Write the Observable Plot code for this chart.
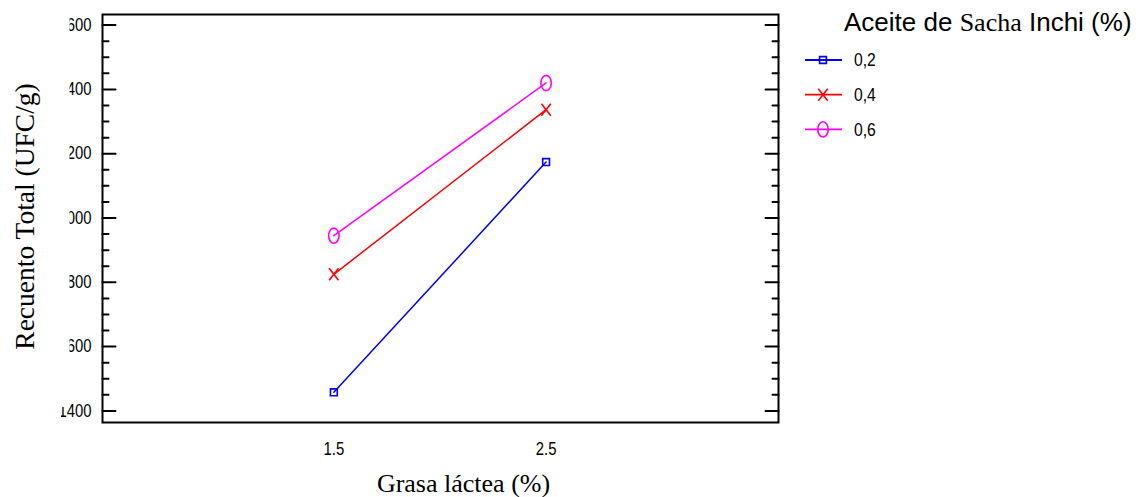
<!DOCTYPE html>
<html><head><meta charset="utf-8">
<script src="https://cdn.jsdelivr.net/npm/d3@7"></script>
<script src="https://cdn.jsdelivr.net/npm/@observablehq/plot@0.6"></script>
<style>
body{margin:0;background:#fff}
#chart{position:relative;width:1141px;height:497px}
</style>
</head><body><div id="chart"></div>
<script>
// ---- data ----
const grasa = [1.5, 2.5];                       // Grasa láctea (%)
const aceite = ["0,2", "0,4", "0,6"];            // Aceite de Sacha Inchi (%)
const rt02 = [1458, 2174];                       // Recuento Total, 0,2
const rt04 = [1825, 2337];                       // Recuento Total, 0,4
const rt06 = [1945, 2420];                       // Recuento Total, 0,6
const yTicks = [1400, 1600, 1800, 2000, 2200, 2400, 2600];
const yMinor = [1450, 1500, 1550, 1650, 1700, 1750, 1850, 1900, 1950, 2050, 2100, 2150,
                2250, 2300, 2350, 2450, 2500, 2550];
const colors = ["#0000ff", "#ff0000", "#ff00ff"];

const series = [rt02, rt04, rt06];
const rows = aceite.flatMap((a, i) => grasa.map((g, j) => ({grasa: g, rt: series[i][j], aceite: a})));

// ---- symbols ----
const symSquare = {draw(c) { const s = 3.4; c.moveTo(-s, -s); c.lineTo(s, -s); c.lineTo(s, s); c.lineTo(-s, s); c.closePath(); }};
const symTimes = {draw(c) { const sx = 4.7, sy = 6; c.moveTo(-sx, -sy); c.lineTo(sx, sy); c.moveTo(sx, -sy); c.lineTo(-sx, sy); }};
const symEllipse = {draw(c) {
  const rx = 5.2, ry = 7.6, k = 0.5523;
  c.moveTo(rx, 0);
  c.bezierCurveTo(rx, ry * k, rx * k, ry, 0, ry);
  c.bezierCurveTo(-rx * k, ry, -rx, ry * k, -rx, 0);
  c.bezierCurveTo(-rx, -ry * k, -rx * k, -ry, 0, -ry);
  c.bezierCurveTo(rx * k, -ry, rx, -ry * k, rx, 0);
  c.closePath();
}};
const symbols = [symSquare, symTimes, symEllipse];

const tickRight = {draw(c, l) { c.moveTo(0, 0); c.lineTo(l, 0); }};
const tickLeft = {draw(c, l) { c.moveTo(0, 0); c.lineTo(-l, 0); }};

const serif = "Liberation Serif, Times New Roman, serif";
const sans = "Liberation Sans, Arial, sans-serif";
const tk = {anchor: "start", stroke: "black", strokeWidth: 2};

const plot = Plot.plot({
  width: 1141,
  height: 497,
  marginLeft: 102,
  marginRight: 363,
  marginTop: 14,
  marginBottom: 75,
  style: {fontFamily: sans, fontSize: "15px", background: "white", color: "black"},
  x: {domain: [0.41, 3.595]},
  y: {domain: [1364, 2633]},
  color: {domain: aceite, range: colors},
  marks: [
    Plot.axisX({ticks: grasa, tickSize: 0, tickPadding: 20, label: null, tickFormat: d => d.toFixed(1)}),
    Plot.axisY({ticks: yTicks, tickSize: 0, tickPadding: 11, label: null, tickFormat: d => String(d)}),
    Plot.vector(yTicks, {y: d => d, frameAnchor: "left", length: 13, shape: tickRight, ...tk}),
    Plot.vector(yMinor, {y: d => d, frameAnchor: "left", length: 6, shape: tickRight, ...tk}),
    Plot.vector(yTicks, {y: d => d, frameAnchor: "right", length: 13, shape: tickLeft, ...tk}),
    Plot.vector(yMinor, {y: d => d, frameAnchor: "right", length: 6, shape: tickLeft, ...tk}),
    Plot.line(rows, {x: "grasa", y: "rt", z: "aceite", stroke: "aceite", strokeWidth: 1.5}),
    ...aceite.map((a, i) => Plot.dot(rows.filter(r => r.aceite === a), {
      x: "grasa", y: "rt", symbol: symbols[i], r: 4, stroke: colors[i], strokeWidth: 1.6, fill: "none"
    })),
    Plot.frame({stroke: "black", strokeWidth: 2}),
    Plot.text(["Grasa láctea (%)"], {frameAnchor: "bottom", textAnchor: "middle", lineAnchor: "middle", dx: 23, dy: 61, fontFamily: serif, fontSize: 26, fill: "black"}),
    Plot.text(["Recuento Total (UFC/g)"], {frameAnchor: "left", textAnchor: "middle", lineAnchor: "middle", dx: -77, dy: -2, rotate: -90, fontFamily: serif, fontSize: 27.5, fill: "black"})
  ]
});

document.getElementById("chart").appendChild(plot);
const svg = d3.select(plot);

// narrow (condensed) sans for the numbers, as in the reference
function condense(sel, size, ratio) {
  sel.style("font-size", size + "px").style("font-family", sans).each(function () {
    const w = this.getComputedTextLength();
    if (w > 0) this.setAttribute("textLength", (w * ratio).toFixed(2)), this.setAttribute("lengthAdjust", "spacingAndGlyphs");
  });
}
condense(svg.selectAll('g[aria-label$="tick label"] text'), 17.5, 0.85);

// clip the y tick labels as in the reference
const defs = svg.append("defs");
const cp = defs.append("clipPath").attr("id", "ylabclip").attr("clipPathUnits", "userSpaceOnUse");
cp.append("rect").attr("x", 69.5).attr("y", 0).attr("width", 1141).attr("height", 497);
cp.append("rect").attr("x", 61).attr("y", 407).attr("width", 1141).attr("height", 90);
const labG = svg.select('g[aria-label="y-axis tick label"]');
if (!labG.empty()) {
  const wrap = svg.insert("g", () => labG.node()).attr("clip-path", "url(#ylabclip)");
  wrap.node().appendChild(labG.node());
}

// legend
const lg = svg.append("g").attr("class", "legend").attr("text-anchor", "start");
const title = lg.append("text").attr("x", 844).attr("y", 31).attr("text-anchor", "start")
  .style("font-size", "26px").attr("fill", "black").style("font-family", sans);
title.append("tspan").text("Aceite de ");
title.append("tspan").style("font-family", serif).text("Sacha");
title.append("tspan").text(" Inchi (%)");
const rowY = [60, 94.7, 129.4];
aceite.forEach((a, i) => {
  const g = lg.append("g").attr("transform", `translate(0,${rowY[i]})`);
  g.append("line").attr("x1", 805).attr("x2", 842).attr("y1", 0).attr("y2", 0).attr("stroke", colors[i]).attr("stroke-width", 1.8);
  const p = d3.path(); symbols[i].draw(p);
  g.append("path").attr("d", p.toString()).attr("transform", "translate(823,0)").attr("fill", "none").attr("stroke", colors[i]).attr("stroke-width", 1.6);
  g.append("text").attr("class", "lg-item").attr("x", 854).attr("y", 0).attr("dy", "0.35em").attr("text-anchor", "start")
    .attr("fill", "black").text(a);
});
condense(lg.selectAll("text.lg-item"), 18, 0.87);
</script>
</body></html>
